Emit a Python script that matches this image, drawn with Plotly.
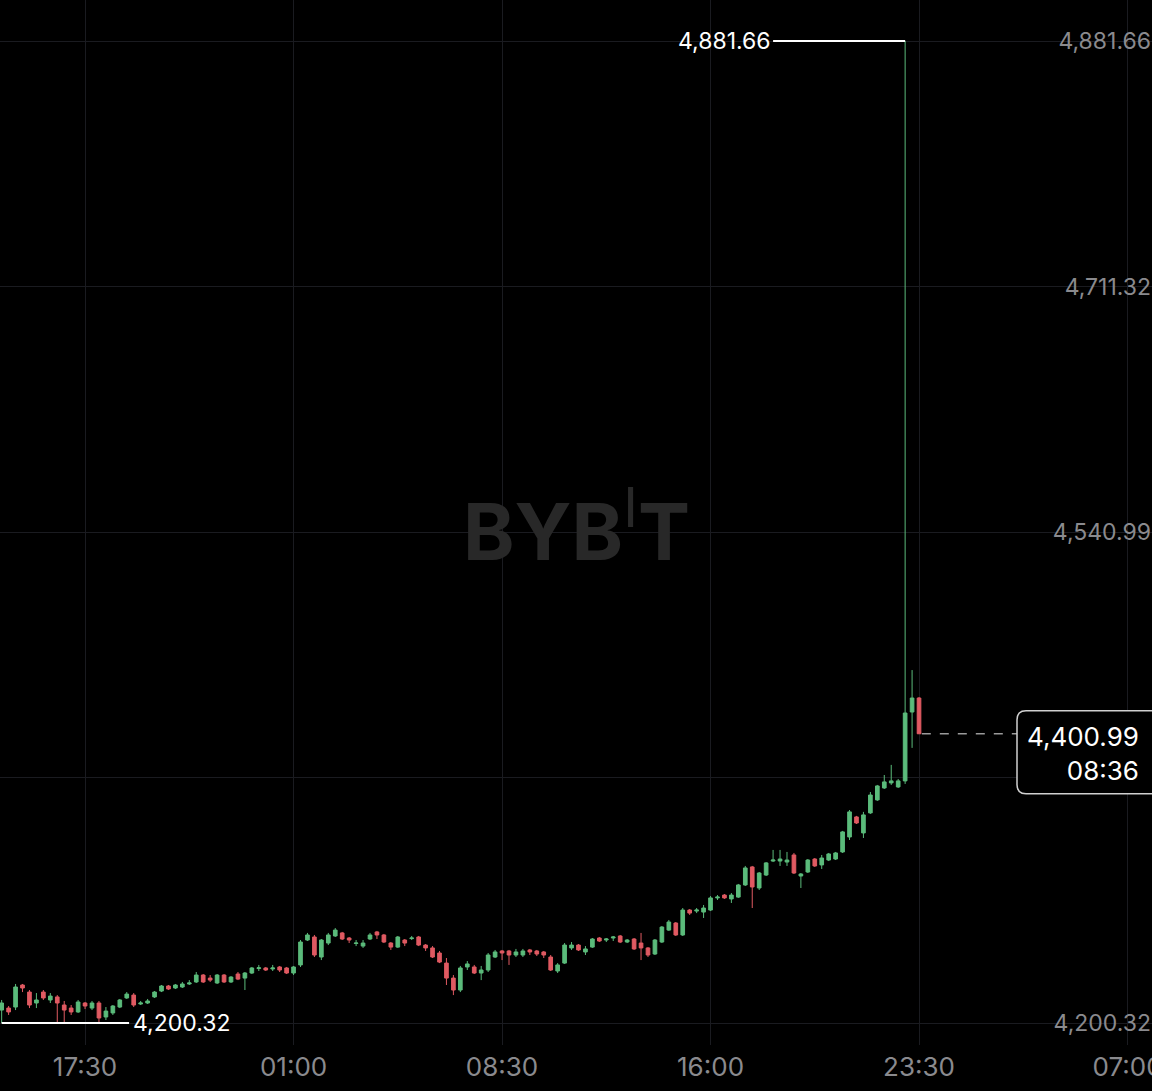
import pandas as pd
import plotly.graph_objects as go

# 15 minute candles, 14:30 on day one to 23:30 on day two
times = pd.date_range("2025-10-14 14:30", periods=133, freq="15min")

open_ = [
    4209.3, 4210.7, 4211.4, 4226.7, 4221.8, 4214.2, 4221.8, 4216.3, 4218.4, 4212.8,
    4210.7, 4208.0, 4214.2, 4210.7, 4214.2, 4204.5, 4207.3, 4211.4, 4217.7, 4219.7,
    4213.5, 4214.2, 4218.4, 4222.5, 4226.0, 4224.6, 4225.3, 4227.4, 4228.8, 4233.6,
    4231.5, 4228.1, 4233.6, 4228.8, 4234.3, 4231.5, 4235.0, 4238.1, 4238.5, 4237.8,
    4239.2, 4238.5, 4235.0, 4240.6, 4257.9, 4260.0, 4246.1, 4255.8, 4260.7, 4262.8,
    4259.3, 4255.5, 4253.7, 4258.6, 4263.5, 4261.4, 4255.8, 4253.0, 4257.9, 4258.9,
    4260.0, 4254.4, 4252.4, 4248.9, 4241.9, 4231.5, 4223.2, 4239.2, 4239.2, 4235.0,
    4237.1, 4246.1, 4250.3, 4250.3, 4247.5, 4247.5, 4251.0, 4250.3, 4249.6, 4246.1,
    4236.4, 4241.9, 4252.4, 4254.4, 4249.6, 4253.0, 4259.3, 4257.9, 4259.3, 4260.7,
    4256.5, 4258.6, 4255.8, 4252.4, 4248.2, 4256.5, 4264.8, 4269.7, 4261.4, 4278.7,
    4278.0, 4277.3, 4278.7, 4287.1, 4289.1, 4286.4, 4287.7, 4296.1, 4308.6, 4294.0,
    4303.0, 4312.7, 4312.7, 4312.0, 4316.9, 4302.3, 4305.1, 4314.1, 4310.0, 4313.4,
    4314.1, 4319.0, 4329.4, 4343.3, 4332.2, 4346.1, 4355.1, 4363.4, 4366.9, 4364.1,
    4368.3, 4416.1, 4425.8,
]
high = [
    4216.3, 4212.1, 4227.4, 4227.4, 4223.2, 4221.1, 4223.2, 4221.1, 4219.7, 4215.6,
    4212.8, 4216.3, 4214.9, 4215.6, 4215.6, 4211.4, 4212.8, 4217.0, 4221.8, 4221.1,
    4215.6, 4217.0, 4222.5, 4226.7, 4226.7, 4227.4, 4228.8, 4230.1, 4235.7, 4234.3,
    4233.6, 4234.3, 4234.3, 4232.9, 4235.7, 4235.7, 4239.2, 4240.6, 4239.2, 4240.6,
    4239.9, 4239.2, 4239.9, 4257.9, 4262.8, 4261.4, 4258.6, 4262.8, 4266.2, 4263.5,
    4260.0, 4257.9, 4257.9, 4262.8, 4264.2, 4262.1, 4256.5, 4260.7, 4258.6, 4260.7,
    4260.7, 4255.1, 4253.7, 4250.3, 4245.4, 4233.6, 4239.9, 4243.3, 4240.6, 4239.9,
    4248.9, 4251.0, 4251.0, 4251.0, 4251.7, 4251.7, 4251.7, 4251.0, 4250.3, 4247.5,
    4241.9, 4255.8, 4256.5, 4255.1, 4253.7, 4259.3, 4260.0, 4259.3, 4260.7, 4261.4,
    4258.6, 4259.3, 4262.8, 4253.0, 4258.6, 4267.6, 4271.8, 4270.4, 4280.1, 4279.4,
    4280.1, 4282.2, 4288.4, 4289.1, 4289.8, 4290.5, 4296.8, 4309.3, 4309.3, 4305.1,
    4312.0, 4320.4, 4320.4, 4319.0, 4318.3, 4304.4, 4314.1, 4314.8, 4316.9, 4318.3,
    4319.0, 4333.6, 4348.1, 4344.0, 4346.8, 4360.6, 4365.5, 4372.4, 4379.4, 4369.6,
    4881.66, 4445.2, 4426.5,
]
low = [
    4200.32, 4205.9, 4209.3, 4221.8, 4210.7, 4210.7, 4216.3, 4214.2, 4201.0, 4201.0,
    4205.9, 4207.3, 4210.0, 4209.3, 4201.0, 4202.4, 4205.9, 4210.7, 4217.0, 4211.4,
    4212.8, 4213.5, 4217.7, 4221.8, 4223.2, 4223.9, 4224.6, 4226.7, 4228.1, 4228.1,
    4228.8, 4227.4, 4228.1, 4228.1, 4230.1, 4223.2, 4234.3, 4236.4, 4236.4, 4236.4,
    4235.7, 4234.3, 4233.6, 4239.2, 4257.2, 4246.1, 4244.0, 4254.4, 4260.0, 4257.9,
    4255.8, 4253.7, 4252.4, 4257.9, 4258.6, 4255.8, 4251.0, 4252.4, 4253.7, 4257.9,
    4253.7, 4250.3, 4245.4, 4241.9, 4226.7, 4219.7, 4221.8, 4237.1, 4234.3, 4230.1,
    4235.7, 4245.4, 4244.0, 4240.6, 4246.1, 4246.1, 4247.5, 4246.8, 4245.4, 4236.4,
    4235.0, 4241.3, 4251.0, 4250.3, 4247.5, 4252.4, 4256.5, 4256.5, 4257.2, 4255.8,
    4255.8, 4251.0, 4244.0, 4246.1, 4247.5, 4255.8, 4264.2, 4260.7, 4260.7, 4275.3,
    4276.6, 4273.2, 4278.0, 4285.7, 4286.4, 4283.6, 4287.1, 4295.4, 4280.1, 4292.6,
    4302.3, 4312.0, 4309.3, 4309.3, 4303.7, 4294.0, 4304.4, 4308.6, 4307.2, 4312.7,
    4313.4, 4318.3, 4327.3, 4338.4, 4328.7, 4345.4, 4354.4, 4362.7, 4365.5, 4363.4,
    4366.2, 4391.2, 4400.99,
]
close = [
    4214.2, 4208.0, 4225.3, 4224.6, 4212.8, 4216.3, 4217.7, 4219.0, 4214.2, 4209.3,
    4208.0, 4214.9, 4212.1, 4214.2, 4203.8, 4208.6, 4212.1, 4216.3, 4220.4, 4212.8,
    4214.2, 4215.6, 4221.8, 4226.0, 4223.9, 4226.7, 4227.4, 4228.1, 4233.6, 4228.8,
    4230.1, 4233.6, 4228.8, 4232.2, 4230.8, 4235.0, 4238.5, 4238.6, 4237.1, 4238.5,
    4237.1, 4235.0, 4239.2, 4256.5, 4261.4, 4247.5, 4257.9, 4261.4, 4264.8, 4258.6,
    4257.9, 4255.8, 4255.8, 4261.4, 4261.4, 4256.5, 4253.0, 4260.0, 4255.8, 4259.3,
    4254.4, 4252.4, 4246.1, 4242.6, 4231.5, 4223.2, 4238.5, 4241.3, 4235.0, 4237.1,
    4247.5, 4249.6, 4248.9, 4247.5, 4249.6, 4250.3, 4249.6, 4248.2, 4247.5, 4237.1,
    4240.6, 4254.4, 4254.4, 4251.0, 4251.7, 4258.6, 4257.2, 4258.6, 4260.0, 4256.5,
    4257.9, 4251.7, 4252.4, 4247.5, 4257.9, 4266.9, 4270.4, 4261.4, 4278.7, 4276.6,
    4278.7, 4280.1, 4287.1, 4287.7, 4287.1, 4289.1, 4296.1, 4307.9, 4294.7, 4304.4,
    4311.4, 4313.4, 4314.1, 4313.4, 4304.4, 4303.7, 4313.4, 4309.3, 4314.8, 4317.6,
    4318.3, 4332.9, 4346.8, 4339.1, 4344.7, 4358.5, 4364.8, 4367.6, 4368.3, 4368.3,
    4415.4, 4425.8, 4400.99,
]

price_ticks = [4200.32, 4370.65, 4540.99, 4711.32, 4881.66]
price_labels = ["4,200.32", "", "4,540.99", "4,711.32", "4,881.66"]
time_ticks = ["2025-10-14 17:30", "2025-10-15 01:00", "2025-10-15 08:30",
              "2025-10-15 16:00", "2025-10-15 23:30", "2025-10-16 07:00"]

high_text = "4,881.66"
low_text = "4,200.32"
last_price = 4400.99
last_text = "4,400.99<br>08:36"

GREEN = "#5bbb7b"
RED = "#e05a62"
GRID = "#1a1b20"
AXIS_TXT = "#8a8a8e"
FONT = "Inter"

hi_idx = high.index(max(high))
lo_idx = low.index(min(low))

fig = go.Figure()
fig.add_trace(go.Candlestick(
    x=times, open=open_, high=high, low=low, close=close,
    increasing=dict(line=dict(color=GREEN, width=1), fillcolor=GREEN),
    decreasing=dict(line=dict(color=RED, width=1), fillcolor=RED),
    hoverinfo="skip", showlegend=False,
))

# px per price unit, used to size the rounded last-price box
ymin, ymax = 4185.06, 4910.11
plot_h = 1091 - 46
ppu = plot_h / (ymax - ymin)


def rounded_box(x0, x1, yb, yt, r_px):
    rx = r_px / 1152
    ry = r_px / ppu
    return (f"M {x0 + rx},{yt} L {x1 - rx},{yt} Q {x1},{yt} {x1},{yt - ry} "
            f"L {x1},{yb + ry} Q {x1},{yb} {x1 - rx},{yb} "
            f"L {x0 + rx},{yb} Q {x0},{yb} {x0},{yb + ry} "
            f"L {x0},{yt - ry} Q {x0},{yt} {x0 + rx},{yt} Z")


box_top = last_price + 23 / ppu
box_bot = last_price - 60 / ppu

fig.update_layout(
    width=1152, height=1091,
    margin=dict(l=0, r=0, t=0, b=46),
    paper_bgcolor="black", plot_bgcolor="black",
    font=dict(family=FONT),
    showlegend=False,
    boxgap=0.25,
    xaxis=dict(
        type="date",
        range=["2025-10-14 14:26:24", "2025-10-16 07:52:50"],
        tickvals=time_ticks, tickformat="%H:%M",
        tickfont=dict(size=26, color=AXIS_TXT),
        ticklabelstandoff=4, ticklabeloverflow="allow", automargin=False,
        showgrid=True, gridcolor=GRID, gridwidth=1,
        zeroline=False, showline=False, ticks="",
        rangeslider=dict(visible=False), fixedrange=True,
    ),
    # price labels sit inside the plot along its right edge
    yaxis=dict(
        anchor="free", position=1, side="left",
        range=[ymin, ymax], automargin=False,
        tickvals=price_ticks, ticktext=price_labels,
        tickfont=dict(size=23, color=AXIS_TXT),
        ticklabelstandoff=1,
        showgrid=True, gridcolor=GRID, gridwidth=1,
        zeroline=False, showline=False, ticks="", fixedrange=True,
    ),
    shapes=[
        dict(type="line", xref="x", yref="y", x0="2025-10-15 18:15",
             x1=times[hi_idx], y0=high[hi_idx], y1=high[hi_idx],
             line=dict(color="white", width=2)),
        dict(type="line", xref="x", yref="y", x0=times[lo_idx],
             x1="2025-10-14 19:05", y0=low[lo_idx], y1=low[lo_idx],
             line=dict(color="white", width=2)),
        dict(type="line", xref="x", yref="y", x0="2025-10-15 23:36",
             x1="2025-10-16 03:02", y0=last_price, y1=last_price,
             line=dict(color="#9a9a9a", width=1.5, dash="dash")),
        dict(type="path", xref="paper", yref="y", layer="above",
             path=rounded_box(1017 / 1152, 1.02, box_bot, box_top, 9),
             fillcolor="black", line=dict(color="#d0d0d0", width=1.5)),
    ],
    annotations=[
        dict(xref="x", yref="y", x="2025-10-15 18:15", y=high[hi_idx],
             text=high_text, showarrow=False, xanchor="right",
             font=dict(size=23, color="white")),
        dict(xref="x", yref="y", x="2025-10-14 19:05", y=low[lo_idx],
             text=low_text, showarrow=False, xanchor="left", xshift=2,
             font=dict(size=23, color="white")),
        dict(xref="paper", yref="y", x=1141 / 1152, y=last_price,
             text=last_text, showarrow=False, xanchor="right", align="right",
             yanchor="middle", yshift=-20,
             font=dict(size=26, color="white")),
        dict(xref="paper", yref="paper", x=0.5, y=0.496,
             text="<b>BYB</b><sup>I</sup><b>T</b>", showarrow=False,
             font=dict(size=78, color="#282828")),
    ],
)

fig.write_html("out.html", config={"displayModeBar": False},
               post_script="document.body.style.margin='0px';"
                           "document.body.style.overflow='hidden';")
